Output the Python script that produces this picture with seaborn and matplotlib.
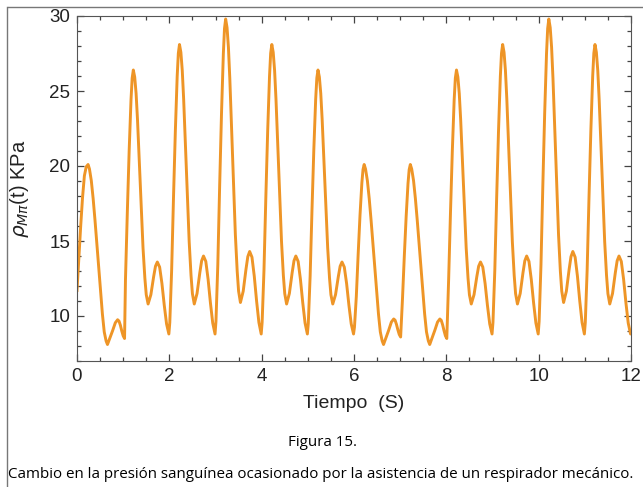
import numpy as np
import matplotlib
matplotlib.use("Agg")
import matplotlib.pyplot as plt
import seaborn as sns
import pandas as pd

# Pressure samples p (KPa) at times t (s), one pair of lists per heartbeat
t00 = [0.00, 0.04, 0.08, 0.12, 0.16, 0.20, 0.24, 0.27, 0.31, 0.35, 0.39, 0.43, 0.47, 0.51,
       0.55, 0.59, 0.63, 0.66, 0.71, 0.77, 0.83, 0.88, 0.91, 0.94, 0.97, 1.00, 1.03]
p00 = [11.70, 13.90, 16.00, 17.90, 19.35, 19.95, 20.10, 19.80, 19.02, 17.82, 16.38, 14.82, 13.26, 11.70,
       10.14, 8.94, 8.34, 8.10, 8.51, 9.01, 9.55, 9.75, 9.66, 9.38, 9.00, 8.68, 8.50]

t01 = [1.05, 1.09, 1.13, 1.17, 1.195, 1.22, 1.25, 1.28, 1.31, 1.34, 1.37, 1.40, 1.43,
       1.47, 1.50, 1.54, 1.60, 1.66, 1.70, 1.74, 1.79, 1.84, 1.89, 1.94, 1.99]
p01 = [12.44, 16.91, 21.03, 24.43, 25.86, 26.40, 25.93, 24.84, 23.12, 20.94, 18.60, 16.42, 14.54,
       12.52, 11.42, 10.80, 11.42, 12.62, 13.32, 13.60, 13.26, 12.16, 10.72, 9.47, 8.80]

t02 = [2.01, 2.05, 2.09, 2.13, 2.17, 2.195, 2.22, 2.25, 2.28, 2.31, 2.34, 2.37, 2.40,
       2.43, 2.47, 2.50, 2.54, 2.60, 2.66, 2.70, 2.74, 2.79, 2.84, 2.89, 2.94, 2.99]
p02 = [9.57, 13.05, 17.87, 22.31, 25.98, 27.52, 28.10, 27.58, 26.37, 24.47, 22.05, 19.45, 17.03,
       14.95, 12.70, 11.49, 10.80, 11.50, 12.88, 13.68, 14.00, 13.64, 12.44, 10.88, 9.53, 8.80]

t03 = [3.01, 3.05, 3.09, 3.13, 3.17, 3.195, 3.22, 3.25, 3.28, 3.31, 3.34, 3.37, 3.40,
       3.43, 3.47, 3.50, 3.54, 3.60, 3.66, 3.70, 3.74, 3.79, 3.84, 3.89, 3.94, 3.99]
p03 = [9.64, 13.42, 18.67, 23.50, 27.49, 29.17, 29.80, 29.23, 27.91, 25.83, 23.19, 20.35, 17.70,
       15.44, 12.98, 11.66, 10.90, 11.65, 13.11, 13.96, 14.30, 13.92, 12.65, 11.00, 9.57, 8.80]

t04 = [4.01, 4.05, 4.09, 4.13, 4.17, 4.195, 4.22, 4.25, 4.28, 4.31, 4.34, 4.37, 4.40,
       4.43, 4.47, 4.50, 4.54, 4.60, 4.66, 4.70, 4.74, 4.79, 4.84, 4.89, 4.94, 4.99]
p04 = [9.57, 13.05, 17.87, 22.31, 25.98, 27.52, 28.10, 27.58, 26.37, 24.47, 22.05, 19.45, 17.03,
       14.95, 12.70, 11.49, 10.80, 11.50, 12.88, 13.68, 14.00, 13.64, 12.44, 10.88, 9.53, 8.80]

t05 = [5.01, 5.05, 5.09, 5.13, 5.17, 5.195, 5.22, 5.25, 5.28, 5.31, 5.34, 5.37, 5.40,
       5.43, 5.47, 5.50, 5.54, 5.60, 5.66, 5.70, 5.74, 5.79, 5.84, 5.89, 5.94, 5.99]
p05 = [9.50, 12.67, 17.07, 21.12, 24.46, 25.87, 26.40, 25.93, 24.84, 23.12, 20.94, 18.60, 16.42,
       14.54, 12.52, 11.42, 10.80, 11.42, 12.62, 13.32, 13.60, 13.26, 12.16, 10.72, 9.47, 8.80]

t06 = [6.01, 6.05, 6.09, 6.13, 6.17, 6.195, 6.22, 6.25, 6.29, 6.33, 6.37, 6.41, 6.45, 6.49,
       6.53, 6.57, 6.61, 6.64, 6.69, 6.75, 6.81, 6.86, 6.89, 6.92, 6.95, 6.98, 7.01]
p06 = [9.25, 11.29, 14.11, 16.71, 18.86, 19.76, 20.10, 19.80, 19.02, 17.82, 16.38, 14.82, 13.26, 11.70,
       10.14, 8.94, 8.34, 8.10, 8.53, 9.04, 9.60, 9.80, 9.72, 9.44, 9.08, 8.77, 8.60]

t07 = [7.05, 7.09, 7.13, 7.17, 7.195, 7.22, 7.25, 7.29, 7.33, 7.37, 7.41, 7.45, 7.49,
       7.53, 7.57, 7.61, 7.64, 7.69, 7.75, 7.81, 7.86, 7.89, 7.92, 7.95, 7.98, 8.01]
p07 = [11.13, 14.01, 16.65, 18.84, 19.76, 20.10, 19.80, 19.02, 17.82, 16.38, 14.82, 13.26, 11.70,
       10.14, 8.94, 8.34, 8.10, 8.53, 9.04, 9.60, 9.80, 9.71, 9.41, 9.02, 8.68, 8.50]

t08 = [8.05, 8.09, 8.13, 8.17, 8.195, 8.22, 8.25, 8.28, 8.31, 8.34, 8.37, 8.40, 8.43,
       8.47, 8.50, 8.54, 8.60, 8.66, 8.70, 8.74, 8.79, 8.84, 8.89, 8.94, 8.99]
p08 = [12.44, 16.91, 21.03, 24.43, 25.86, 26.40, 25.93, 24.84, 23.12, 20.94, 18.60, 16.42, 14.54,
       12.52, 11.42, 10.80, 11.42, 12.62, 13.32, 13.60, 13.26, 12.16, 10.72, 9.47, 8.80]

t09 = [9.01, 9.05, 9.09, 9.13, 9.17, 9.195, 9.22, 9.25, 9.28, 9.31, 9.34, 9.37, 9.40,
       9.43, 9.47, 9.50, 9.54, 9.60, 9.66, 9.70, 9.74, 9.79, 9.84, 9.89, 9.94, 9.99]
p09 = [9.57, 13.05, 17.87, 22.31, 25.98, 27.52, 28.10, 27.58, 26.37, 24.47, 22.05, 19.45, 17.03,
       14.95, 12.70, 11.49, 10.80, 11.50, 12.88, 13.68, 14.00, 13.64, 12.44, 10.88, 9.53, 8.80]

t10 = [10.01, 10.05, 10.09, 10.13, 10.17, 10.195, 10.22, 10.25, 10.28, 10.31, 10.34, 10.37, 10.40,
       10.43, 10.47, 10.50, 10.54, 10.60, 10.66, 10.70, 10.74, 10.79, 10.84, 10.89, 10.94, 10.99]
p10 = [9.64, 13.42, 18.67, 23.50, 27.49, 29.17, 29.80, 29.23, 27.91, 25.83, 23.19, 20.35, 17.70,
       15.44, 12.98, 11.66, 10.90, 11.65, 13.11, 13.96, 14.30, 13.92, 12.65, 11.00, 9.57, 8.80]

t11 = [11.01, 11.05, 11.09, 11.13, 11.17, 11.195, 11.22, 11.25, 11.28, 11.31, 11.34, 11.37, 11.40,
       11.43, 11.47, 11.50, 11.54, 11.60, 11.66, 11.70, 11.74, 11.79, 11.84, 11.89, 11.94, 11.99, 12.00]
p11 = [9.57, 13.05, 17.87, 22.31, 25.98, 27.52, 28.10, 27.58, 26.37, 24.47, 22.05, 19.45, 17.03,
       14.95, 12.70, 11.49, 10.80, 11.50, 12.88, 13.68, 14.00, 13.64, 12.44, 10.88, 9.53, 8.80, 8.85]

x_ticks = [0, 2, 4, 6, 8, 10, 12]
y_ticks = [10, 15, 20, 25, 30]
x_label = "Tiempo  (S)"
y_label = r"$\rho_{M\pi}$(t) KPa"
fig_number = "Figura 15."
caption = "Cambio en la presión sanguínea ocasionado por la asistencia de un respirador mecánico."

time = t00 + t01 + t02 + t03 + t04 + t05 + t06 + t07 + t08 + t09 + t10 + t11
pressure = p00 + p01 + p02 + p03 + p04 + p05 + p06 + p07 + p08 + p09 + p10 + p11
df = pd.DataFrame({"t": time, "p": pressure})

W, H = 643, 487
fig = plt.figure(figsize=(W / 100, H / 100), dpi=100)
ax = fig.add_axes([77 / W, 1 - 361 / H, 554 / W, 345 / H])
sns.lineplot(data=df, x="t", y="p", estimator=None, sort=False, color="#EE9527", lw=2.1, ax=ax)

ax.set_xlim(0, 12)
ax.set_ylim(7, 30)
ax.set_xticks(x_ticks)
ax.set_yticks(y_ticks)
ax.set_xticks(np.arange(0, 12.01, 0.5), minor=True)
ax.set_yticks(np.arange(7, 30.01, 1), minor=True)
ax.tick_params(which="both", direction="in", top=True, right=True, color="#444444", width=0.9)
ax.tick_params(which="major", length=5, labelsize=13.5, labelcolor="#222222", pad=5)
ax.tick_params(which="minor", length=3)
for lab in ax.get_xticklabels() + ax.get_yticklabels():
    lab.set_family("Liberation Sans")
for sp in ax.spines.values():
    sp.set_color("#555555")

ax.set_xlabel(x_label, family="Liberation Sans", fontsize=14, color="#222222")
ax.xaxis.set_label_coords(0.5, -0.10)
ax.set_ylabel(y_label, family="Liberation Sans", fontsize=14.5, color="#222222")
ax.yaxis.set_label_coords(-0.083, 0.5)

fig.text(322 / W, 1 - 443 / H, fig_number, family="Open Sans", fontsize=10.9, ha="center", va="center")
fig.text(8 / W, 1 - 474 / H, caption, family="Open Sans", fontsize=10.9, ha="left", va="center")

# thin page border on the top and left
fig.add_artist(plt.Line2D([8 / W, 1], [1 - 7 / H] * 2, color="#777777", lw=1))
fig.add_artist(plt.Line2D([7 / W] * 2, [0, 1 - 7 / H], color="#777777", lw=1))

fig.savefig("out.png", dpi=100)
